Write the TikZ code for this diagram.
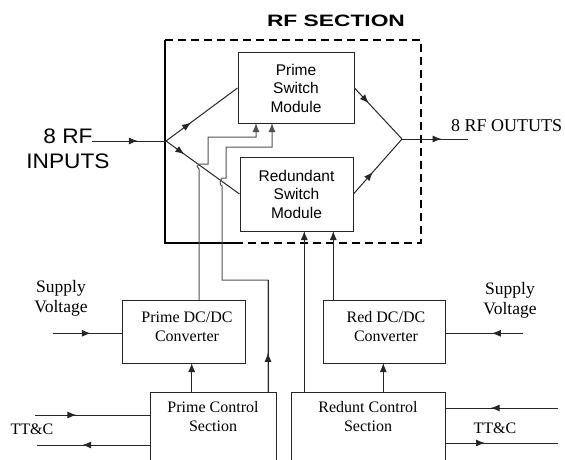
\documentclass[tikz,border=0pt]{standalone}
\usepackage{fontspec}
\setmainfont{Liberation Serif}
\setsansfont{Liberation Sans}
\usetikzlibrary{arrows.meta,decorations.markings}
\tikzset{
  ln/.style={line width=1pt, draw=black!85},
  ctl/.style={line width=1pt, draw=black!68},
  box/.style={draw=black!85, line width=1pt, rectangle, inner sep=0pt},
  midarr/.style={postaction={decorate}, decoration={markings, mark=at position #1 with {\arrow{Latex[length=9pt,width=7pt]}}}},
  endarr/.style={-{Latex[length=9pt,width=7pt]}},
  sertext/.style={font=\fontsize{16}{19}\selectfont, align=center, inner sep=0pt},
  suptext/.style={font=\fontsize{17.5}{20}\selectfont, align=center, inner sep=0pt},
  sanstext/.style={font=\sffamily\fontsize{15.5}{18.5}\selectfont, align=center, inner sep=0pt},
  bigsans/.style={font=\sffamily\fontsize{21}{25}\selectfont, align=center, inner sep=0pt},
  titletext/.style={font=\sffamily\bfseries\fontsize{16.5}{20}\selectfont, inner sep=0pt},
}
\begin{document}
\begin{tikzpicture}[x=1pt,y=-1pt]
\clip (0,0) rectangle (565,460);
\fill[white] (0,0) rectangle (565,460);

% title
\node[titletext] (title) at (336,21) {\scalebox{1.38}[1]{RF SECTION}};

% RF section boundary
\draw[line width=2pt, dash pattern=on 8pt off 5pt] (165,40) -- (421,40) -- (421,243) -- (237,243);
\draw[line width=2.3pt] (237,243) -- (165,243) -- (165,40);

% switch modules
\node[box, sanstext, minimum width=116pt, minimum height=70pt] (psw) at (296,88) {Prime\\Switch\\Module};
\node[box, sanstext, minimum width=113pt, minimum height=74pt] (rsw) at (296.5,194) {Redundant\\Switch\\Module};

% RF input
\node[bigsans] (inlbl) at (68,149) {\scalebox{1.08}[1]{8 RF}\\\scalebox{1.08}[1]{INPUTS}};
\coordinate (inL) at (92,141);
\coordinate (split) at (166,141);
\draw[ln, midarr=0.62] (inL) -- (split);
\draw[ln, midarr=0.35] (split) -- (psw.west);
\draw[ln, midarr=0.25] (split) -- (rsw.west);

% RF output
\coordinate (merge) at (402,139);
\coordinate (outE) at (468,139);
\draw[ln, midarr=0.3] (psw.east) -- (merge);
\draw[ln, midarr=0.4] (rsw.east) -- (merge);
\draw[ln, midarr=0.6] (merge) -- (outE);
\node[suptext, font=\fontsize{18}{20}\selectfont, anchor=west] (outlbl) at (451,126) {8 RF OUTUTS};

% DC/DC converters
\node[box, minimum width=123pt, minimum height=63pt] (pdc) at (183.5,331.5) {};
\node[sertext] (pdct) at (187,327) {Prime DC/DC\\Converter};
\node[box, minimum width=122pt, minimum height=63pt] (rdc) at (384,331.5) {};
\node[sertext] (rdct) at (386,327) {Red DC/DC\\Converter};

% control sections (extend below the picture edge)
\node[box, minimum width=126pt, minimum height=100pt] (pcs) at (213,442) {};
\node[sertext] (pcst) at (213,417) {Prime Control\\Section};
\node[box, minimum width=154pt, minimum height=100pt] (rcs) at (368.7,442) {};
\node[sertext] (rcst) at (368,417) {Redunt Control\\Section};

% control lines into the prime switch
\draw[ctl, endarr] (199,300) -- (199,169) .. controls (196.5,168) and (196.5,165) .. (199,164) -- (208,164) -- (208,137) -- (256,137) -- (256,123);
\draw[ctl, endarr] (268,392) -- (268,280) -- (222,280) -- (222,186) .. controls (219.5,185) and (219.5,181) .. (222,178) -- (226,178) -- (226,147) -- (272,147) -- (272,123);
\draw[ln, midarr=0.35] (268,392) -- (268,280);

% control lines into the redundant switch
\draw[ln, endarr] (304.3,392) -- (304.3,231);
\draw[ln, endarr] (333.3,300) -- (333.3,231);

% control sections to converters
\draw[ln, endarr] (191.7,392) -- (191.7,363);
\draw[ln, endarr] (383.3,392) -- (383.3,363);

% supply voltages
\node[suptext] (svl) at (61,298) {Supply\\Voltage};
\coordinate (svlE) at (52.7,333.3);
\draw[ln, midarr=0.55] (svlE) -- (122,333.3);
\node[suptext] (svr) at (510,300) {Supply\\Voltage};
\coordinate (svrE) at (523,333.3);
\draw[ln, midarr=0.4] (svrE) -- (445,333.3);

% TT&C left
\node[sertext] (ttl) at (32,429) {TT\&C};
\coordinate (ttlA) at (35,415);
\coordinate (ttlB) at (37,445);
\draw[ln, midarr=0.36] (ttlA) -- (150,415);
\draw[ln, midarr=0.6] (150,445) -- (ttlB);

% TT&C right
\node[sertext] (ttr) at (495,428) {TT\&C};
\coordinate (ttrA) at (558,408);
\coordinate (ttrB) at (558,443);
\draw[ln, midarr=0.6] (ttrA) -- (445.7,408);
\draw[ln, midarr=0.35] (445.7,443) -- (ttrB);
\end{tikzpicture}
\end{document}
